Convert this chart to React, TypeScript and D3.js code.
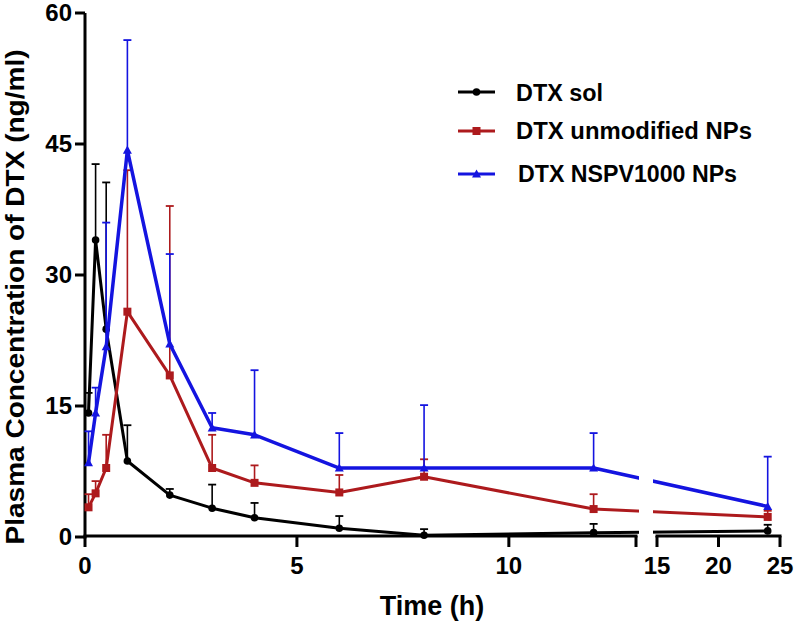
import React from 'react';
import * as d3 from 'd3';

const times = [0.083, 0.25, 0.5, 1, 2, 3, 4, 6, 8, 12, 24];
const solMean = [14.2, 34.0, 23.8, 8.7, 4.8, 3.3, 2.2, 1.0, 0.2, 0.5, 0.7];
const solUpper = [16.5, 42.7, 40.6, 12.8, 5.5, 6.0, 3.9, 2.4, 0.9, 1.5, 1.4];
const npMean = [3.4, 5.0, 7.9, 25.8, 18.5, 7.9, 6.2, 5.1, 6.9, 3.2, 2.3];
const npUpper = [4.9, 6.4, 11.7, 42.0, 37.9, 11.7, 8.2, 7.1, 8.9, 4.9, 3.0];
const nspvMean = [8.5, 14.2, 21.8, 44.3, 22.1, 12.5, 11.7, 7.9, 7.9, 7.9, 3.5];
const nspvUpper = [12.1, 17.1, 36.0, 56.9, 32.4, 14.2, 19.1, 11.9, 15.1, 11.9, 9.2];

const seriesNames = ['DTX sol', 'DTX unmodified NPs', 'DTX NSPV1000 NPs'];
const yTicks = [0, 15, 30, 45, 60];
const xTicksLeft = [0, 5, 10];
const xTicksRight = [15, 20, 25];
const leftDomain = [0, 13];
const rightDomain = [15, 25];

const W = 799;
const H = 627;
const FONT = '"Liberation Sans", Arial, sans-serif';

const xLeft = d3.scaleLinear().domain(leftDomain).range([85, 636]);
const xRight = d3.scaleLinear().domain(rightDomain).range([657, 780]);
const x = (t: number) => (t <= leftDomain[1] ? xLeft(t) : xRight(t));
const y = d3.scaleLinear().domain([0, 60]).range([537, 13]);

const colors = ['#000000', '#ad1a1d', '#1414e0'];
const series = [
  { name: seriesNames[0], mean: solMean, upper: solUpper, color: colors[0], marker: 'circle', lw: 3 },
  { name: seriesNames[1], mean: npMean, upper: npUpper, color: colors[1], marker: 'square', lw: 3 },
  { name: seriesNames[2], mean: nspvMean, upper: nspvUpper, color: colors[2], marker: 'triangle', lw: 3.5 },
];

function Marker({ type, cx, cy, color }: { type: string; cx: number; cy: number; color: string }) {
  if (type === 'circle') return <circle cx={cx} cy={cy} r={3.8} fill={color} />;
  if (type === 'square') return <rect x={cx - 4} y={cy - 4} width={8} height={8} fill={color} />;
  const s = 4.5;
  return <path d={`M${cx},${cy - s}L${cx + s},${cy + s * 0.8}L${cx - s},${cy + s * 0.8}Z`} fill={color} />;
}

export default function App() {
  const line = d3
    .line<number>()
    .x((_, i) => x(times[i]))
    .y((d) => y(d));

  const legendY = [92, 131, 174];
  const legendTextY = [101, 139, 182];
  const legendTextX = [516, 516, 518];
  const legendTextLen = [87, 236, 219];

  return (
    <svg
      width={W}
      height={H}
      viewBox={`0 0 ${W} ${H}`}
      style={{ position: 'absolute', left: 0, top: 0, background: '#fff' }}
      fontFamily={FONT}
    >
      <defs>
        <clipPath id="brk">
          <rect x={0} y={0} width={639} height={H} />
          <rect x={653} y={0} width={W - 653} height={H} />
        </clipPath>
      </defs>
      <rect x={0} y={0} width={W} height={H} fill="#fff" />

      {/* Y axis */}
      <line x1={85} x2={85} y1={y(60)} y2={y(0) + 1.5} stroke="#000" strokeWidth={3} />
      {yTicks.map((t) => (
        <g key={'y' + t}>
          <line x1={75} x2={85} y1={y(t)} y2={y(t)} stroke="#000" strokeWidth={3} />
          <text x={72} y={y(t) + 8} textAnchor="end" fontSize={24} fontWeight="bold">
            {t}
          </text>
        </g>
      ))}

      {/* X axis left segment */}
      <line x1={xLeft(0) - 1.5} x2={xLeft(13) + 1.5} y1={536} y2={536} stroke="#000" strokeWidth={3} />
      {[...xTicksLeft, leftDomain[1]].map((t) => (
        <line key={'xl' + t} x1={xLeft(t)} x2={xLeft(t)} y1={536} y2={547} stroke="#000" strokeWidth={3} />
      ))}
      {xTicksLeft.map((t) => (
        <text key={'xlt' + t} x={xLeft(t)} y={574} textAnchor="middle" fontSize={24} fontWeight="bold">
          {t}
        </text>
      ))}
      {/* X axis right segment */}
      <line x1={xRight(15) - 1.5} x2={xRight(25) + 1.5} y1={536} y2={536} stroke="#000" strokeWidth={3} />
      {xTicksRight.map((t) => (
        <g key={'xr' + t}>
          <line x1={xRight(t)} x2={xRight(t)} y1={536} y2={547} stroke="#000" strokeWidth={3} />
          <text x={xRight(t)} y={574} textAnchor="middle" fontSize={24} fontWeight="bold">
            {t}
          </text>
        </g>
      ))}

      {/* Series */}
      {series.map((s) => (
        <g key={s.name}>
          {s.mean.map((m, i) => (
            <g key={i}>
              <line x1={x(times[i])} x2={x(times[i])} y1={y(m)} y2={y(s.upper[i])} stroke={s.color} strokeWidth={1.6} />
              <line
                x1={x(times[i]) - 4}
                x2={x(times[i]) + 4}
                y1={y(s.upper[i])}
                y2={y(s.upper[i])}
                stroke={s.color}
                strokeWidth={1.8}
              />
            </g>
          ))}
          <path d={line(s.mean) || ''} fill="none" stroke={s.color} strokeWidth={s.lw} strokeLinejoin="round" clipPath="url(#brk)" />
          {s.mean.map((m, i) => (
            <Marker key={'m' + i} type={s.marker} cx={x(times[i])} cy={y(m)} color={s.color} />
          ))}
        </g>
      ))}

      {/* Legend */}
      {series.map((s, i) => (
        <g key={'lg' + i}>
          <line x1={458} x2={495} y1={legendY[i]} y2={legendY[i]} stroke={s.color} strokeWidth={3} />
          <Marker type={s.marker} cx={476.5} cy={legendY[i]} color={s.color} />
          <text
            x={legendTextX[i]}
            y={legendTextY[i]}
            fontSize={23}
            fontWeight="bold"
            textLength={legendTextLen[i]}
            lengthAdjust="spacingAndGlyphs"
          >
            {s.name}
          </text>
        </g>
      ))}

      {/* Axis titles */}
      <text x={432} y={615} textAnchor="middle" fontSize={27} fontWeight="bold">
        Time (h)
      </text>
      <text
        transform={`translate(24,297) rotate(-90)`}
        textAnchor="middle"
        fontSize={25}
        fontWeight="bold"
        textLength={495}
        lengthAdjust="spacingAndGlyphs"
      >
        Plasma Concentration of DTX (ng/ml)
      </text>
    </svg>
  );
}
